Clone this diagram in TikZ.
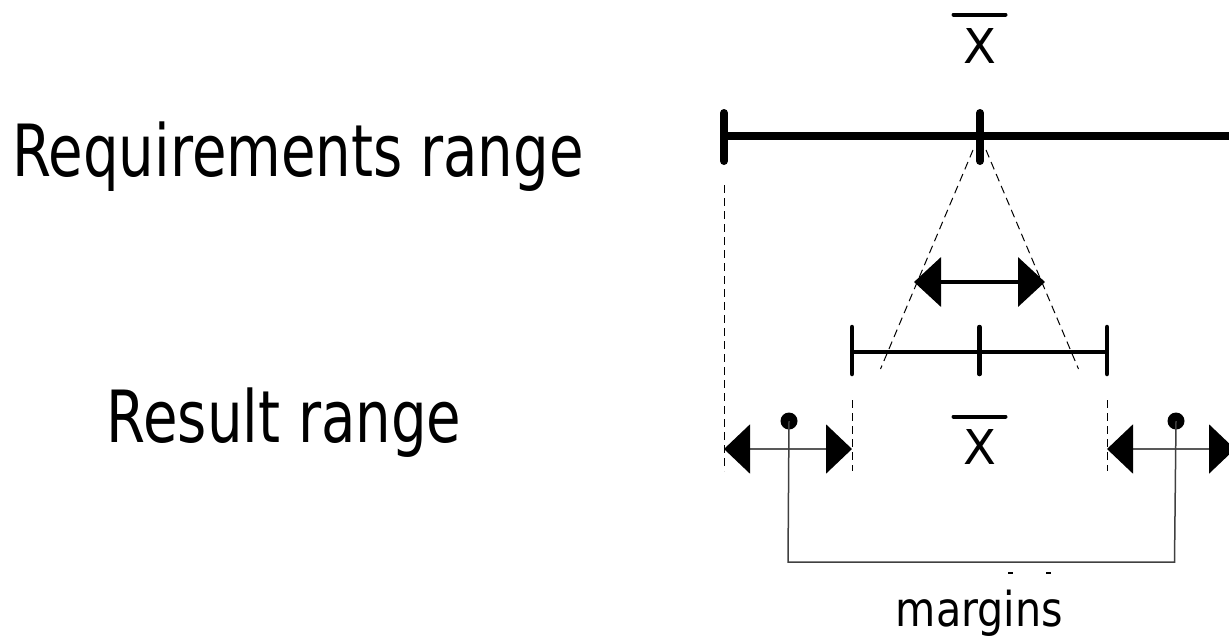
\documentclass[tikz,border=0pt]{standalone}
\usepackage{fontspec}
\setmainfont{DejaVu Sans}
\usetikzlibrary{arrows.meta}
\tikzset{
  label text/.style={inner sep=0pt, anchor=base, xscale=0.78, font=\fontsize{72}{80}\selectfont},
  small text/.style={inner sep=0pt, anchor=base, xscale=0.86, font=\fontsize{48}{56}\selectfont},
  mean text/.style={inner sep=0pt, anchor=base, font=\fontsize{48}{56}\selectfont},
  mean bar/.style={line width=4pt, line cap=round},
  req bar/.style={line width=7.5pt},
  req tick/.style={line width=8pt, line cap=round},
  res bar/.style={line width=4pt},
  res tick/.style={line width=4.5pt, line cap=round},
  guide/.style={line width=1pt, dash pattern=on 8pt off 5pt},
  bold span/.style={line width=4pt, {Triangle[length=27pt,width=49pt]}-{Triangle[length=27pt,width=49pt]}},
  margin span/.style={line width=2pt, draw=black!65, {Triangle[length=26pt,width=49pt,color=black,fill=black]}-{Triangle[length=26pt,width=49pt,color=black,fill=black]}},
  bracket/.style={line width=1.5pt, draw=black!75},
  pin/.style={circle, fill=black, minimum size=17pt, inner sep=0pt},
}
\begin{document}
\begin{tikzpicture}[x=1pt, y=-1pt]
\useasboundingbox (0,0) rectangle (1229,638);
\clip (0,0) rectangle (1229,638);

% labels
\node[label text] (reqlabel) at (298,176.5) {Requirements range};
\node[label text] (reslabel) at (284,442.5) {Result range};
\node[small text] (marginlabel) at (979.5,626.5) {margins};
\node[mean text] (meantop) at (979.5,63.5) {X};
\node[mean text] (meanlow) at (979.5,464.5) {X};
\draw[mean bar] ([xshift=-26pt,yshift=49pt]meantop.base) -- ([xshift=26pt,yshift=49pt]meantop.base);
\draw[mean bar] ([xshift=-26pt,yshift=48pt]meanlow.base) -- ([xshift=26pt,yshift=48pt]meanlow.base);

% requirements range
\coordinate (rl) at (724,136);
\coordinate (rm) at (980,136);
\coordinate (rr) at (1236,136);
\draw[req bar] (rl) -- (rr);
\foreach \p in {rl,rm,rr}
  \draw[req tick] ([yshift=-25pt]\p) -- ([yshift=23pt]\p);

% result range
\coordinate (sl) at (852,351.5);
\coordinate (sm) at (979.5,351.5);
\coordinate (sr) at (1107,351.5);
\draw[res bar] (sl) -- (sr);
\foreach \p in {sl,sm,sr}
  \draw[res tick] ([yshift=-22.5pt]\p) -- ([yshift=24.5pt]\p);

% projection guides
\coordinate (g1a) at (724,185);   \coordinate (g1b) at (724,471);
\coordinate (g2a) at (852,400);   \coordinate (g2b) at (852,471);
\coordinate (g3a) at (1107,400);  \coordinate (g3b) at (1107,471);
\coordinate (d1a) at (973,150);   \coordinate (d1b) at (880.5,369);
\coordinate (d2a) at (986,150);   \coordinate (d2b) at (1078.5,369);
\foreach \a/\b in {g1a/g1b,g2a/g2b,g3a/g3b,d1a/d1b,d2a/d2b}
  \draw[guide] (\a) -- (\b);

% spread of the mean
\coordinate (ba) at (914,282);
\coordinate (bb) at (1045,282);
\draw[bold span] (ba) -- (bb);

% margins
\coordinate (ma1) at (724,449);  \coordinate (mb1) at (852,449);
\coordinate (ma2) at (1107,449); \coordinate (mb2) at (1235,449);
\draw[margin span] (ma1) -- (mb1);
\draw[margin span] (ma2) -- (mb2);
\node[pin] (pinl) at (789,421) {};
\node[pin] (pinr) at (1176,421) {};
\coordinate (kl) at (788,562);
\coordinate (kr) at (1174.5,562);
\draw[bracket] (pinl.center) -- (kl) -- (kr) -- (pinr.center);

% small marks under the bracket
\coordinate (t1) at (1008,573); \coordinate (t2) at (1013,573);
\coordinate (t3) at (1046,573); \coordinate (t4) at (1051,573);
\draw[line width=2pt] (t1) -- (t2);
\draw[line width=2pt] (t3) -- (t4);
\end{tikzpicture}
\end{document}
